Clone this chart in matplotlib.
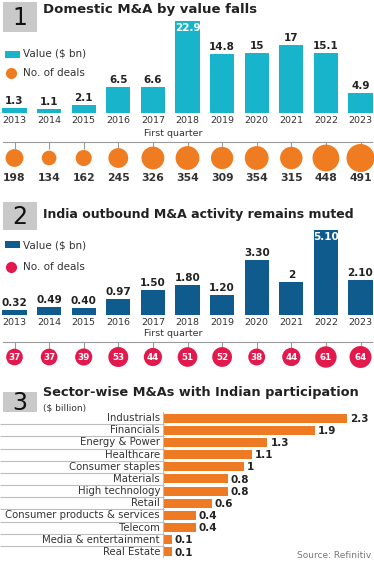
import numpy as np
import matplotlib.pyplot as plt
from matplotlib.patches import Rectangle
from matplotlib.lines import Line2D

plt.rcParams['font.family'] = ['DejaVu Sans']

years = ['2013', '2014', '2015', '2016', '2017', '2018', '2019', '2020', '2021', '2022', '2023']
dom_value = [1.3, 1.1, 2.1, 6.5, 6.6, 22.9, 14.8, 15, 17, 15.1, 4.9]
dom_deals = [198, 134, 162, 245, 326, 354, 309, 354, 315, 448, 491]
out_value = [0.32, 0.49, 0.40, 0.97, 1.50, 1.80, 1.20, 3.30, 2, 5.10, 2.10]
out_labels = ['0.32', '0.49', '0.40', '0.97', '1.50', '1.80', '1.20', '3.30', '2', '5.10', '2.10']
out_deals = [37, 37, 39, 53, 44, 51, 52, 38, 44, 61, 64]
sectors = ['Industrials', 'Financials', 'Energy & Power', 'Healthcare', 'Consumer staples',
           'Materials', 'High technology', 'Retail', 'Consumer products & services',
           'Telecom', 'Media & entertainment', 'Real Estate']
sector_value = [2.3, 1.9, 1.3, 1.1, 1, 0.8, 0.8, 0.6, 0.4, 0.4, 0.1, 0.1]

CYAN = '#17b4cb'
ORANGE = '#f07c22'
BLUE = '#0f5b8d'
PINK = '#e2194c'
BAR3 = '#ee7a24'
TXT = '#222222'

W, H = 374, 561
fig = plt.figure(figsize=(W / 100, H / 100), dpi=100)


def px_axes(left, top, width, height):
    ax = fig.add_axes([left / W, 1 - (top + height) / H, width / W, height / H])
    ax.set_facecolor('none')
    for s in ax.spines.values():
        s.set_visible(False)
    return ax


def ftext(x, y, s, **kw):
    fig.text(x / W, 1 - y / H, s, **kw)


def num_box(x0, y0, x1, y1, n):
    fig.add_artist(Rectangle((x0 / W, 1 - y1 / H), (x1 - x0) / W, (y1 - y0) / H,
                             transform=fig.transFigure, color='#c9c9c9', lw=0))
    ftext((x0 + x1) / 2, (y0 + y1) / 2 + 1, n, ha='center', va='center',
          fontsize=17, color='#111111')


def legend(y_sq, y_dot, sq_color, dot_color):
    fig.add_artist(Rectangle((5 / W, 1 - (y_sq + 3.5) / H), 15 / W, 7 / H,
                             transform=fig.transFigure, color=sq_color, lw=0))
    ftext(23, y_sq, 'Value ($ bn)', va='center', fontsize=7.5, color='#333333')
    fig.add_artist(Line2D([11 / W], [1 - y_dot / H], marker='o', markersize=7,
                          color=dot_color, transform=fig.transFigure))
    ftext(23, y_dot, 'No. of deals', va='center', fontsize=7.5, color='#333333')


x = np.arange(len(years))
xlim = (-14.5 / 34.6, (374 - 14.5) / 34.6)


def bar_panel(top, base, scale, values, labels, color, inside, fq_y):
    ax = px_axes(0, top, W, base - top)
    ax.bar(x, values, width=0.7, color=color)
    ax.set_xlim(*xlim)
    ax.set_ylim(0, (base - top) / scale)
    ax.set_yticks([])
    ax.set_xticks(x, years)
    ax.tick_params(axis='x', length=0, pad=2.5, labelsize=6.8, labelcolor='#333333')
    for i, (v, lab) in enumerate(zip(values, labels)):
        if i == inside:
            ax.annotate(lab, (i, v), xytext=(0, -1.5), textcoords='offset points',
                        ha='center', va='top', fontsize=7.5, fontweight='bold', color='white')
        else:
            ax.annotate(lab, (i, v), xytext=(0, 1.5), textcoords='offset points',
                        ha='center', va='bottom', fontsize=7.5, fontweight='bold', color=TXT)
    ftext(173, fq_y, 'First quarter', ha='center', va='center', fontsize=6.8, color='#333333')
    return ax


def dot_panel(top, height, line_y, tick_end, dot_y, deals, color, size_k,
              label_y=None):
    ax = px_axes(0, top, W, height)
    ax.set_xlim(*xlim)
    ax.set_ylim(height, 0)
    ax.set_xticks([])
    ax.set_yticks([])
    ax.axhline(line_y - top, xmin=0.008, xmax=0.995, color='#9a9a9a', lw=0.8)
    ax.vlines(x, line_y - top, tick_end - top, color='#9a9a9a', lw=0.8)
    ax.scatter(x, [dot_y - top] * len(x), s=np.array(deals) * size_k, color=color,
               zorder=3, linewidths=0)
    for i, d in enumerate(deals):
        if label_y is None:
            ax.text(i, dot_y - top + 0.5, str(d), ha='center', va='center', fontsize=6.3,
                    fontweight='bold', color='white', zorder=4)
        else:
            ax.text(i, label_y - top, str(d), ha='center', va='center', fontsize=7.8,
                    fontweight='bold', color='#333333')
    return ax


# Panel 1
num_box(3, 2, 37, 32, '1')
ftext(43, 13.5, 'Domestic M&A by value falls', fontsize=9.5, fontweight='bold', color=TXT)
legend(54, 73, CYAN, ORANGE)
bar_panel(15, 113, 4.0, dom_value, [f'{v:g}' for v in dom_value], CYAN, 5, 133)
dot_panel(136, 56, 141.5, 149, 158, dom_deals, ORANGE, 0.83, label_y=178)

# Panel 2
num_box(3, 202, 37, 230, '2')
ftext(43, 218, 'India outbound M&A activity remains muted', fontsize=9.0,
      fontweight='bold', color=TXT)
legend(245, 267, BLUE, PINK)
bar_panel(215, 315, 16.7, out_value, out_labels, BLUE, 9, 333)
dot_panel(338, 36, 342, 349, 357, out_deals, PINK, 3.9)

# Panel 3
num_box(3, 392, 37, 412, '3')
ftext(43, 396, 'Sector-wise M&As with Indian participation', fontsize=9.3,
      fontweight='bold', color=TXT)
ftext(43, 408, '($ billion)', va='center', fontsize=6.5, color='#333333')

scale3 = 79.6
ax3 = px_axes(0, 412, W, 146)
y3 = np.arange(len(sectors))
ax3.barh(y3, sector_value, height=0.74, color=BAR3, left=0)
ax3.set_xlim(-164 / scale3, (W - 164) / scale3)
ax3.set_ylim(len(sectors) - 0.5, -0.5)
ax3.set_xticks([])
ax3.set_yticks([])
ax3.hlines(y3[:-1] + 0.5, -164 / scale3, 0, color='#bdbdbd', lw=0.8)
ax3.axvline(-1.5 / scale3, ymin=0, ymax=1.0, color='#bdbdbd', lw=0.8)
for yi, name, v in zip(y3, sectors, sector_value):
    ax3.text(-4 / scale3, yi, name, ha='right', va='center', fontsize=7.3, color='#333333')
    ax3.text(v + 3 / scale3, yi + 0.05, f'{v:g}', ha='left', va='center', fontsize=7.5,
             fontweight='bold', color=TXT)

ftext(371, 555, 'Source: Refinitiv', ha='right', va='center', fontsize=6.5, color='#777777')

fig.savefig('out.png', dpi=100)
